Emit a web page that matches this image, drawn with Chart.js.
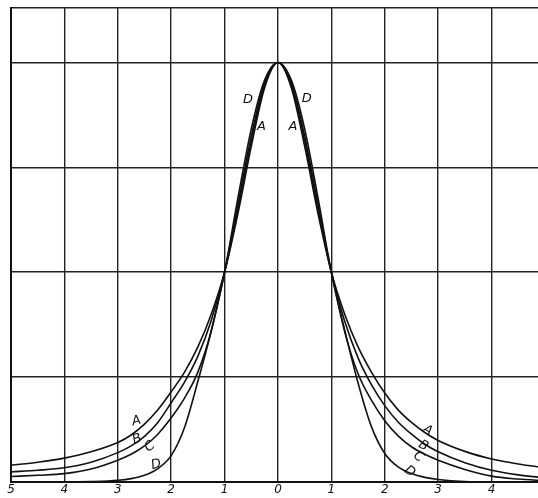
<!DOCTYPE html>
<html>
<head>
<meta charset="utf-8">
<script src="https://cdn.jsdelivr.net/npm/chart.js@4.4.1/dist/chart.umd.min.js"></script>
<style>
  html, body { margin: 0; padding: 0; background: #fff; }
  #wrap { width: 538px; height: 498px; }
</style>
</head>
<body>
<div id="wrap"><canvas id="curves" width="538" height="498"></canvas></div>
<script>
// Abscissas (distance from the centre, in half-widths)
const xValues = [-5, -4.5, -4, -3.5, -3, -2.75, -2.5, -2.25, -2, -1.75, -1.5, -1.25, -1, -0.75, -0.5, -0.25,
                 0, 0.25, 0.5, 0.75, 1, 1.25, 1.5, 1.75, 2, 2.25, 2.5, 2.75, 3, 3.5, 4, 4.5, 5];

// Curve heights (peak = 1)
const curveA = [0.040, 0.047, 0.057, 0.072, 0.094, 0.112, 0.138, 0.172, 0.215, 0.262, 0.322, 0.400, 0.5, 0.640, 0.800, 0.940,
                1, 0.940, 0.800, 0.640, 0.5, 0.400, 0.322, 0.262, 0.212, 0.172, 0.142, 0.118, 0.099, 0.073, 0.055, 0.043, 0.034];
const curveB = [0.024, 0.028, 0.034, 0.047, 0.070, 0.086, 0.109, 0.142, 0.189, 0.238, 0.300, 0.385, 0.5, 0.650, 0.812, 0.946,
                1, 0.946, 0.812, 0.650, 0.5, 0.383, 0.296, 0.232, 0.182, 0.143, 0.114, 0.090, 0.072, 0.046, 0.028, 0.017, 0.010];
const curveC = [0.013, 0.016, 0.020, 0.031, 0.052, 0.066, 0.086, 0.114, 0.153, 0.200, 0.262, 0.360, 0.5, 0.662, 0.825, 0.952,
                1, 0.952, 0.825, 0.662, 0.5, 0.358, 0.258, 0.195, 0.146, 0.110, 0.084, 0.066, 0.052, 0.030, 0.014, 0.007, 0.003];
const curveD = [0, 0, 0, 0.001, 0.004, 0.008, 0.016, 0.032, 0.063, 0.130, 0.240, 0.360, 0.5, 0.677, 0.842, 0.958,
                1, 0.958, 0.842, 0.677, 0.5, 0.362, 0.236, 0.132, 0.068, 0.036, 0.020, 0.011, 0.006, 0.001, 0, 0, 0];

// Axis ticks
const xTicks = [-5, -4, -3, -2, -1, 0, 1, 2, 3, 4];
const xTickLabels = ['5', '4', '3', '2', '1', '0', '1', '2', '3', '4'];
const yGrid = [0, 0.25, 0.5, 0.75, 1, 1.13];

// Letters written next to the curves
const curveLabels = [
  { text: 'D', x: -0.56, y: 0.911, rot: 0 },
  { text: 'A', x: -0.31, y: 0.848, rot: 0 },
  { text: 'D', x: 0.54, y: 0.913, rot: 0 },
  { text: 'A', x: 0.28, y: 0.848, rot: 0 },
  { text: 'A', x: -2.65, y: 0.145, rot: -15 },
  { text: 'B', x: -2.64, y: 0.102, rot: -20 },
  { text: 'C', x: -2.40, y: 0.084, rot: -40 },
  { text: 'D', x: -2.28, y: 0.041, rot: -15 },
  { text: 'A', x: 2.80, y: 0.123, rot: 30 },
  { text: 'B', x: 2.72, y: 0.086, rot: 30 },
  { text: 'C', x: 2.63, y: 0.060, rot: 35 },
  { text: 'D', x: 2.47, y: 0.025, rot: 35 }
];

function toPoints(ys) {
  return xValues.map((x, i) => ({ x: x, y: ys[i] }));
}

function curve(label, ys) {
  return {
    label: label,
    data: toPoints(ys),
    borderColor: '#111',
    borderWidth: 1.6,
    pointRadius: 0,
    fill: false,
    cubicInterpolationMode: 'monotone'
  };
}

// Draw the letters A-D on the chart
const letterPlugin = {
  id: 'letters',
  afterDatasetsDraw(chart) {
    const ctx = chart.ctx;
    const xs = chart.scales.x, ys = chart.scales.y;
    ctx.save();
    ctx.fillStyle = '#111';
    ctx.font = 'italic 13px "DejaVu Sans"';
    ctx.textAlign = 'center';
    ctx.textBaseline = 'middle';
    curveLabels.forEach(l => {
      ctx.save();
      ctx.translate(xs.getPixelForValue(l.x), ys.getPixelForValue(l.y));
      ctx.rotate(l.rot * Math.PI / 180);
      ctx.fillText(l.text, 0, 0);
      ctx.restore();
    });
    ctx.restore();
  }
};

new Chart(document.getElementById('curves'), {
  type: 'line',
  data: {
    datasets: [curve('A', curveA), curve('B', curveB), curve('C', curveC), curve('D', curveD)]
  },
  options: {
    responsive: false,
    animation: false,
    layout: { padding: { left: 11, top: 8, right: 0, bottom: 0 } },
    plugins: {
      legend: { display: false },
      tooltip: { enabled: false }
    },
    scales: {
      x: {
        type: 'linear',
        min: -5,
        max: 4.87,
        afterBuildTicks: axis => { axis.ticks = xTicks.map(v => ({ value: v })); },
        ticks: {
          autoSkip: false,
          maxRotation: 0,
          padding: 2,
          color: '#111',
          font: { family: 'DejaVu Sans', size: 12, style: 'italic', lineHeight: 1 },
          callback: (v, i) => xTickLabels[i]
        },
        grid: { color: '#222', lineWidth: 1.4, drawTicks: false },
        border: { display: true, color: '#111', width: 2 }
      },
      y: {
        min: 0,
        max: 1.13,
        afterBuildTicks: axis => { axis.ticks = yGrid.map(v => ({ value: v })); },
        ticks: { display: false },
        grid: { color: '#222', lineWidth: 1.6, drawTicks: false },
        border: { display: true, color: '#111', width: 2 }
      }
    }
  },
  plugins: [letterPlugin]
});
</script>
</body>
</html>
